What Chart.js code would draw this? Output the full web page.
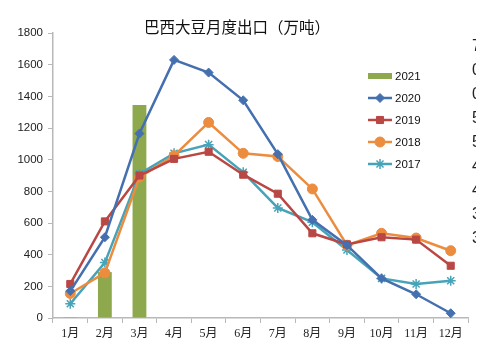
<!DOCTYPE html>
<html>
<head>
<meta charset="utf-8">
<script src="https://cdn.jsdelivr.net/npm/chart.js@4/dist/chart.umd.min.js"></script>
<style>
  html, body { margin: 0; padding: 0; background: #fff; overflow: hidden; }
  #wrap { position: relative; width: 483px; height: 352px; }
  #edge { position: absolute; left: 472px; top: 34px; width: 4px; height: 230px; overflow: hidden;
          font: 16px "Liberation Sans", Arial, sans-serif; color: #222; line-height: 24px; }
</style>
</head>
<body>
<div id="wrap">
  <canvas id="exportChart" width="483" height="352"></canvas>
  <div id="edge">7<br>0<br>0<br>5<br>5<br>4<br>4<br>3<br>3</div>
</div>
<script>
const months = ['1月', '2月', '3月', '4月', '5月', '6月', '7月', '8月', '9月', '10月', '11月', '12月'];
const y2021 = [5, 290, 1345, null, null, null, null, null, null, null, null, null];
const y2020 = [170, 510, 1165, 1630, 1550, 1375, 1035, 620, 460, 250, 150, 30];
const y2019 = [215, 610, 900, 1005, 1050, 905, 785, 535, 465, 510, 495, 330];
const y2018 = [155, 285, 890, 1025, 1235, 1040, 1020, 815, 460, 535, 505, 425];
const y2017 = [90, 350, 910, 1040, 1095, 920, 695, 605, 430, 250, 215, 235];
const yTicks = [0, 200, 400, 600, 800, 1000, 1200, 1400, 1600, 1800];

const GREEN = '#8ea94d', BLUE = '#4570b0', RED = '#b94744', ORANGE = '#eb8c3f', TEAL = '#46a3b8';
const AXIS = '#b8b8b8';

function lineSet(label, data, color, style, radius) {
    return {
        type: 'line',
        label: label,
        data: data,
        borderColor: color,
        backgroundColor: color,
        borderWidth: 2.5,
        pointStyle: style,
        pointRadius: radius,
        pointBorderWidth: style === 'star' ? 1.5 : 1,
        pointBorderColor: color,
        tension: 0,
        fill: false
    };
}

// title + legend drawn at fixed spots (legend sits over the plot like the original)
const overlay = {
    id: 'overlay',
    afterDraw(chart) {
        const c = chart.ctx;
        c.save();
        c.fillStyle = '#111';
        c.font = '15.5px "Noto Sans CJK SC", sans-serif';
        c.textAlign = 'left';
        c.textBaseline = 'middle';
        c.fillText('巴西大豆月度出口（万吨）', 144, 27);

        const x0 = 368, x1 = 392;
        let y = 76;
        c.font = '11.5px "Liberation Sans", Arial, sans-serif';
        chart.data.datasets.forEach((ds, i) => {
            if (i === 0) {
                c.fillStyle = ds.backgroundColor;
                c.fillRect(x0, y - 3, x1 - x0, 6);
            } else {
                c.strokeStyle = ds.borderColor;
                c.lineWidth = 2.5;
                c.beginPath();
                c.moveTo(x0, y);
                c.lineTo(x1, y);
                c.stroke();
                c.fillStyle = ds.backgroundColor;
                c.lineWidth = ds.pointBorderWidth;
                Chart.helpers.drawPoint(c, {
                    pointStyle: ds.pointStyle,
                    radius: ds.pointRadius,
                    borderWidth: ds.pointBorderWidth
                }, (x0 + x1) / 2, y);
            }
            c.fillStyle = '#111';
            c.fillText(ds.label, x1 + 3, y + 0.5);
            y += 22;
        });
        c.restore();
    }
};

const ctx = document.getElementById('exportChart').getContext('2d');
const exportChart = new Chart(ctx, {
    data: {
        labels: months,
        datasets: [
            {
                type: 'bar',
                label: '2021',
                data: y2021,
                backgroundColor: GREEN,
                borderWidth: 0,
                barPercentage: 0.8,
                categoryPercentage: 0.5,
                order: 10
            },
            lineSet('2020', y2020, BLUE, 'rectRot', 4.5),
            lineSet('2019', y2019, RED, 'rect', 5),
            lineSet('2018', y2018, ORANGE, 'circle', 5),
            lineSet('2017', y2017, TEAL, 'star', 5)
        ]
    },
    options: {
        responsive: false,
        animation: false,
        layout: { padding: { left: 0, right: 15, top: 33, bottom: 0 } },
        plugins: {
            legend: { display: false },
            title: { display: false },
            tooltip: { enabled: false }
        },
        scales: {
            x: {
                offset: true,
                grid: { display: true, drawOnChartArea: false, drawTicks: true, tickLength: 5, color: AXIS, offset: true },
                border: { display: true, color: AXIS, width: 1.5 },
                ticks: {
                    color: '#222',
                    padding: 4,
                    maxRotation: 0,
                    autoSkip: false,
                    font: { family: '"Liberation Serif", "Noto Sans CJK SC", serif', size: 12 }
                },
                afterFit(scale) { scale.height = 34; }
            },
            y: {
                min: 0,
                max: 1800,
                afterBuildTicks(scale) { scale.ticks = yTicks.map(v => ({ value: v })); },
                grid: { display: true, drawOnChartArea: false, drawTicks: true, tickLength: 5, color: AXIS },
                border: { display: true, color: AXIS, width: 1.5 },
                ticks: {
                    color: '#222',
                    padding: 5,
                    font: { family: '"Liberation Sans", Arial, sans-serif', size: 11.5 },
                    callback: (v) => String(v)
                },
                afterFit(scale) { scale.width = 53; }
            }
        }
    },
    plugins: [overlay]
});
</script>
</body>
</html>
